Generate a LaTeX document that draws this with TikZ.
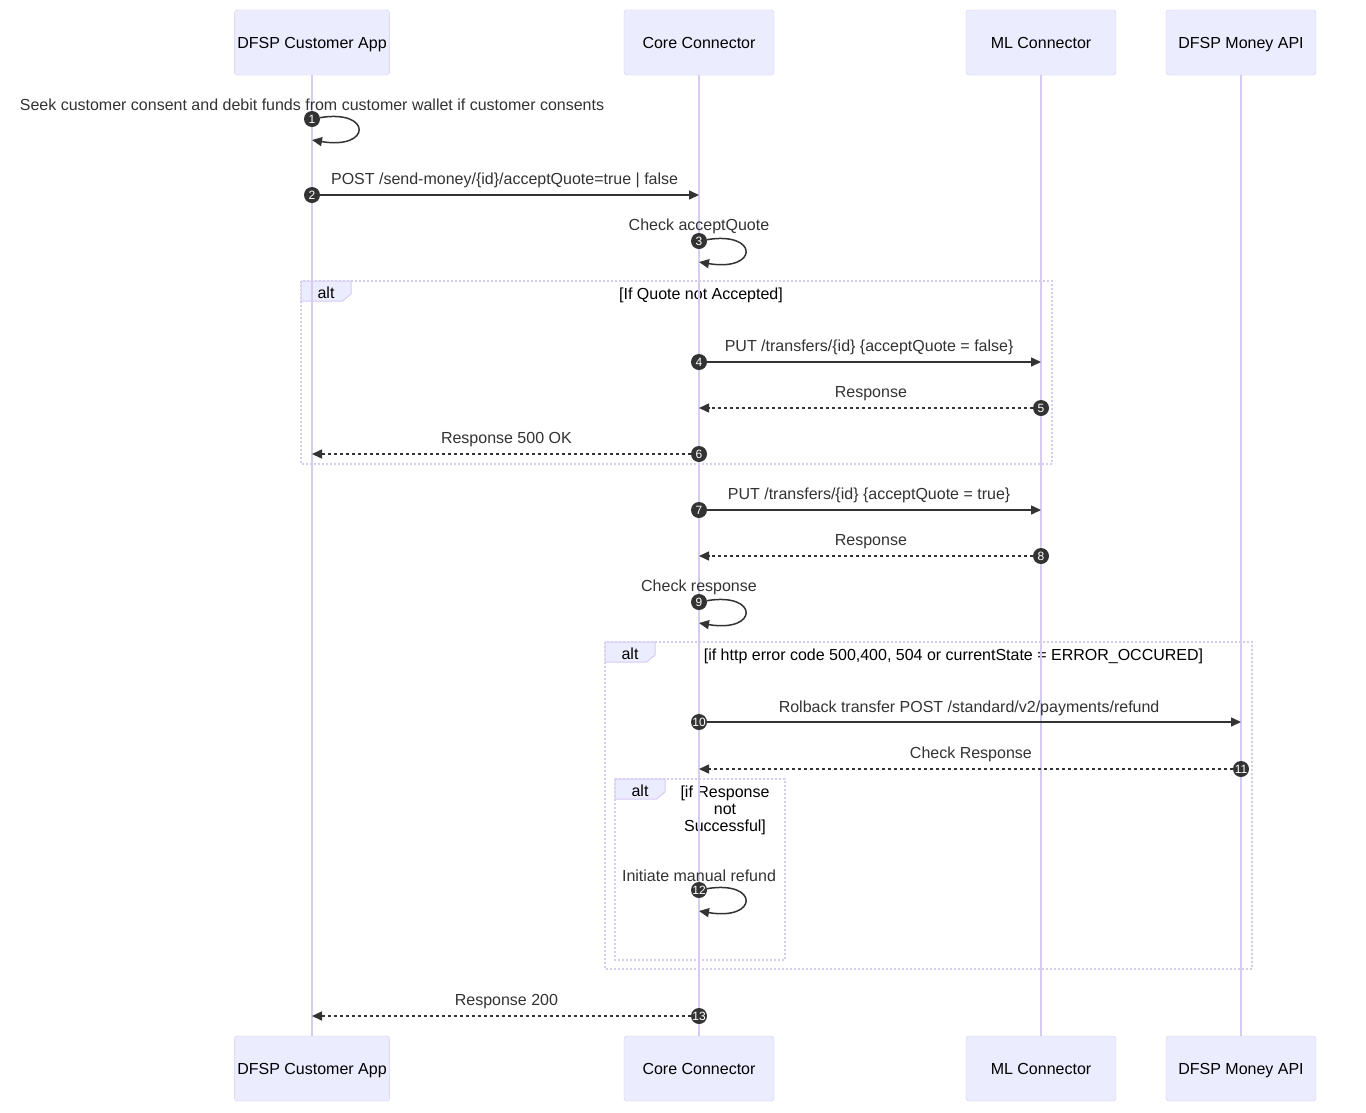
\documentclass[tikz,border=0pt]{standalone}
\usepackage{fontspec}
\setmainfont{Liberation Sans}
\usepackage{tikz}
\usetikzlibrary{arrows.meta}
\usetikzlibrary{positioning}
\definecolor{actorfill}{HTML}{ECECFF}
\definecolor{actorline}{HTML}{D6CCF2}
\definecolor{ink}{HTML}{333333}
\tikzset{>=Triangle}
\tikzset{
    actor/.style = {draw=actorline, fill=actorfill, rounded corners=3pt, minimum width=150pt, minimum height=65pt, inner sep=3pt, text height=12pt, text depth=0pt, font=\fontsize{16}{19}\selectfont},
    lifeline/.style = {draw=actorline, line width=1.5pt},
    msg/.style = {draw=ink, line width=1.5pt, -{Triangle[length=10pt,width=9pt]}},
    reply/.style = {msg, dash pattern=on 3pt off 3pt},
    num/.style = {circle, fill=ink, text=white, inner sep=0pt, minimum size=16pt, font=\fontsize{12}{12}\selectfont},
    msgtext/.style = {text=ink, inner sep=0pt, text height=12pt, text depth=0pt, font=\fontsize{16}{19}\selectfont},
    msglabel/.style = {msgtext, midway, yshift=17pt},
    rlabel/.style = {msglabel, xshift=-5pt},
    llabel/.style = {msglabel, xshift=5pt},
}
\tikzset{
    frame/.style = {draw=actorline, line width=1.5pt, dash pattern=on 2pt off 2pt},
    tab/.style = {draw=actorline, fill=actorfill, line width=1pt},
    cond/.style = {inner sep=0pt, align=center, font=\fontsize{16}{17}\selectfont},
}
\begin{document}
\begin{tikzpicture}[x=1pt,y=-1pt]
\useasboundingbox[fill=white] (0,0) rectangle (1366,1112);
\foreach \name/\x/\txt in {cust/312/DFSP Customer App, core/699/Core Connector, ml/1041/ML Connector, money/1241/DFSP Money API}{
    \node[actor] (\name) at (\x,42.5) {\txt};
    \node[actor] (\name-bot) at (\x,1068.5) {\txt};
}
% alt frames
\draw[frame] (301,281) rectangle (1052,464);
\draw[frame] (605,642) rectangle (1252,969);
\draw[frame] (615,779) rectangle (785,960);
\foreach \x/\y [count=\i] in {301/281, 605/642, 615/779}{
    \draw[tab] (\x,\y) -- ++(50,0) -- ++(0,13) -- ++(-8.4,7) -- ++(-41.6,0) -- cycle;
    \node[cond] (alt\i) at (\x+25,\y+12) {alt};
}
\node[cond] (cond1) at (701,295) {[If Quote not Accepted]};
\node[cond] (cond2) at (953.5,656) {[if http error code 500,400, 504 or currentState = ERROR\_OCCURED]};
\node[cond] (cond3) at (725,810) {[if Response\\not\\Successful]};
\foreach \name in {cust,core,ml,money}
    \draw[lifeline] (\name.south) -- (\name-bot.north);
% messages
\node[num] (n1) at (cust |- 0,119) {1};
\coordinate (e1) at (cust |- 0,140);
\draw[msg] (n1) .. controls +(60,-10) and +(60,10) .. (e1);
\node[msgtext] (t1) at ([yshift=15pt]n1.center) {Seek customer consent and debit funds from customer wallet if customer consents};
\node[num] (n2) at (cust |- 0,195) {2};
\coordinate (e2) at (core |- 0,195);
\draw[msg] (n2) -- node[rlabel] (l2) {POST /send-money/\{id\}/acceptQuote=true | false} (e2);
\node[num] (n3) at (core |- 0,241) {3};
\coordinate (e3) at (core |- 0,262);
\draw[msg] (n3) .. controls +(60,-10) and +(60,10) .. (e3);
\node[msgtext] (t3) at ([yshift=17pt]n3.center) {Check acceptQuote};
\node[num] (n4) at (core |- 0,362) {4};
\coordinate (e4) at (ml |- 0,362);
\draw[msg] (n4) -- node[rlabel] (l4) {PUT /transfers/\{id\} \{acceptQuote = false\}} (e4);
\node[num] (n5) at (ml |- 0,408) {5};
\coordinate (e5) at (core |- 0,408);
\draw[reply] (n5) -- node[llabel] (l5) {Response} (e5);
\node[num] (n6) at (core |- 0,454) {6};
\coordinate (e6) at (cust |- 0,454);
\draw[reply] (n6) -- node[llabel] (l6) {Response 500 OK} (e6);
\node[num] (n7) at (core |- 0,510) {7};
\coordinate (e7) at (ml |- 0,510);
\draw[msg] (n7) -- node[rlabel] (l7) {PUT /transfers/\{id\} \{acceptQuote = true\}} (e7);
\node[num] (n8) at (ml |- 0,556) {8};
\coordinate (e8) at (core |- 0,556);
\draw[reply] (n8) -- node[llabel] (l8) {Response} (e8);
\node[num] (n9) at (core |- 0,602) {9};
\coordinate (e9) at (core |- 0,623);
\draw[msg] (n9) .. controls +(60,-10) and +(60,10) .. (e9);
\node[msgtext] (t9) at ([yshift=17pt]n9.center) {Check response};
\node[num] (n10) at (core |- 0,722) {10};
\coordinate (e10) at (money |- 0,722);
\draw[msg] (n10) -- node[rlabel, yshift=-1pt] (l10) {Rolback transfer POST /standard/v2/payments/refund} (e10);
\node[num] (n11) at (money |- 0,769) {11};
\coordinate (e11) at (core |- 0,769);
\draw[reply] (n11) -- node[llabel] (l11) {Check Response} (e11);
\node[num] (n12) at (core |- 0,890) {12};
\coordinate (e12) at (core |- 0,911);
\draw[msg] (n12) .. controls +(60,-10) and +(60,10) .. (e12);
\node[msgtext] (t12) at ([yshift=15pt]n12.center) {Initiate manual refund};
\node[num] (n13) at (core |- 0,1016) {13};
\coordinate (e13) at (cust |- 0,1016);
\draw[reply] (n13) -- node[llabel] (l13) {Response 200} (e13);
\end{tikzpicture}
\end{document}
